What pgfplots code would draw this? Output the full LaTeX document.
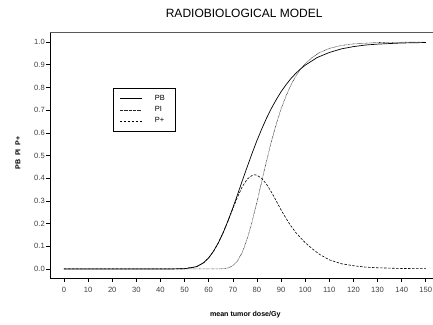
\documentclass[border=0pt]{standalone}
\usepackage{fontspec}
\setmainfont{Liberation Sans}
\usepackage{pgfplots}
\pgfplotsset{compat=1.18}
\begin{document}
\begin{tikzpicture}
\begin{axis}[
  at={(0pt,0pt)}, anchor=south west,
  scale only axis, width=383pt, height=245pt,
  xmin=-5.8, xmax=153, ymin=-0.04, ymax=1.04,
  axis line style={draw=none},
  tick pos=left, tick align=outside,
  major tick length=4pt,
  tick style={black, line width=0.6pt},
  xtick={0,10,...,150},
  ytick={0,0.1,...,1.0},
  /pgf/number format/assume math mode=true,
  yticklabel style={/pgf/number format/fixed, /pgf/number format/fixed zerofill, /pgf/number format/precision=1, inner xsep=1pt},
  ticklabel style={font=\fontsize{7.6}{8}\selectfont, text=black!75},
  xticklabel style={yshift=-2pt},
  title={RADIOBIOLOGICAL MODEL},
  title style={at={(rel axis cs:0.507,1)}, anchor=center, yshift=14pt, font=\fontsize{12}{13}\selectfont},
  xlabel={\textbf{mean tumor dose/Gy}},
  xlabel style={at={(rel axis cs:0.51,0)}, anchor=center, yshift=-37pt, font=\fontsize{7.1}{8}\selectfont},
  ylabel={\textbf{PB\ \ PI\ \ P+}},
  ylabel style={at={(axis description cs:-0.0836,0.51)}, anchor=center, font=\fontsize{7.1}{8}\selectfont},
  legend style={at={(axis cs:20.3,0.797)}, anchor=north west, draw=black, line width=0.6pt,
    font=\fontsize{7.5}{8}\selectfont, inner xsep=6pt, inner ysep=5pt, row sep=0.5pt, column sep=10pt},
  legend cell align=left,
  legend image code/.code={\draw[#1] (0pt,0pt) -- (22pt,0pt);},
  legend style={nodes={text width=11pt, inner xsep=3pt}},
]
\draw[black, line width=0.7pt] (rel axis cs:1,0) -- (rel axis cs:0,0) -- (rel axis cs:0,1);
\draw[black!65, line width=1pt] (rel axis cs:0,1) -- (rel axis cs:1,1);
\addplot[black, line width=0.7pt] coordinates {
(0,0) (45,0) (50,0.001) (55,0.010) (58,0.028) (60,0.049) (62,0.078) (64,0.115)
(66,0.160) (68,0.212) (70,0.269) (72,0.329) (74,0.391) (76,0.451) (78,0.510)
(80,0.566) (82,0.617) (84,0.665) (86,0.708) (88,0.746) (90,0.781) (92,0.811)
(94,0.838) (96,0.861) (98,0.881) (100,0.898) (105,0.932) (110,0.954) (115,0.970)
(120,0.980) (125,0.987) (130,0.991) (140,0.996) (150,0.998)
};
\addlegendentry{PB}
\addplot[black!85, line width=0.6pt, dash pattern=on 0.6pt off 0.7pt] coordinates {
(0,0) (60,0) (65,0.0004) (68,0.004) (70,0.014) (72,0.036) (74,0.075) (76,0.134)
(78,0.209) (80,0.295) (82,0.386) (84,0.477) (86,0.562) (88,0.638) (90,0.705)
(92,0.761) (94,0.809) (96,0.848) (98,0.879) (100,0.905) (103,0.933) (106,0.954)
(110,0.972) (115,0.985) (120,0.992) (130,0.998) (140,0.999) (150,1.0)
};
\addlegendentry{PI}
\addplot[black, line width=0.6pt, dash pattern=on 2.5pt off 1.5pt] coordinates {
(0,0) (45,0) (50,0.001) (55,0.010) (58,0.028) (60,0.049) (62,0.078) (64,0.115)
(66,0.160) (68,0.211) (70,0.265) (72,0.318) (74,0.364) (76,0.396) (78,0.412)
(79,0.415) (80,0.413) (82,0.399) (84,0.373) (86,0.339) (88,0.300) (90,0.260)
(92,0.224) (94,0.191) (96,0.162) (98,0.138) (100,0.116) (103,0.088) (106,0.064)
(110,0.040) (115,0.023) (120,0.014) (125,0.008) (130,0.005) (140,0.002) (150,0.001)
};
\addlegendentry{P+}
\end{axis}
\pgfresetboundingbox
\path[use as bounding box] (-50pt,-46pt) rectangle (383pt,278pt);
\end{tikzpicture}
\end{document}
